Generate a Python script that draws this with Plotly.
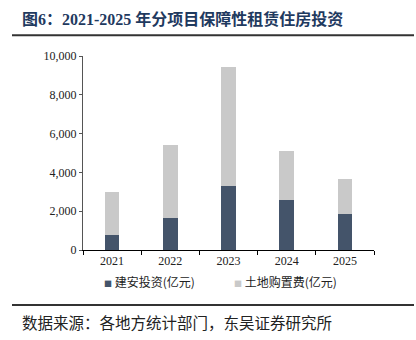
import plotly.graph_objects as go

# 保障性租赁住房投资分项（亿元）
years = ["2021", "2022", "2023", "2024", "2025"]
construction = [785, 1675, 3300, 2564, 1846]   # 建安投资
land = [2225, 3745, 6136, 2564, 1795]          # 土地购置费

y_ticks = [0, 2000, 4000, 6000, 8000, 10000]
y_tick_text = ["0", "2,000", "4,000", "6,000", "8,000", "10,000"]

series_names = ["建安投资(亿元)", "土地购置费(亿元)"]
series_colors = ["#44546A", "#C9C9C9"]

W, H = 416, 340
PL, PR, PT, PB = 83, 374, 55.7, 250  # plot area in px


def px_x(x):
    return (x - PL) / (PR - PL)


def px_y(y):
    return (PB - y) / (PB - PT)


serif = "Times New Roman, Liberation Serif, serif"
cjk = "Noto Sans CJK SC, sans-serif"

fig = go.Figure()
for vals, name, color in zip([construction, land], series_names, series_colors):
    fig.add_trace(go.Bar(x=years, y=vals, name=name,
                         marker=dict(color=color, line=dict(width=0)),
                         width=0.25, showlegend=False))

fig.update_layout(
    barmode="stack",
    width=W, height=H,
    margin=dict(l=PL, r=W - PR, t=PT, b=H - PB),
    plot_bgcolor="white", paper_bgcolor="white",
    font=dict(family=serif, size=12, color="#222"),
)

fig.update_xaxes(
    showline=True, linecolor="black", linewidth=1,
    ticks="outside", tickson="boundaries", ticklen=4, tickcolor="black",
    tickfont=dict(family=serif, size=12, color="#222"),
    showgrid=False, range=[-0.5, 4.5],
)
fig.update_yaxes(
    range=[0, 10000], tickvals=y_ticks, ticktext=y_tick_text,
    showline=True, linecolor="#555", linewidth=1,
    ticks="outside", ticklen=3, tickcolor="#555",
    tickfont=dict(family=serif, size=12, color="#222"),
    showgrid=False, zeroline=False,
)

# 图例
for lx, name, color in zip([102, 232], series_names, series_colors):
    fig.add_annotation(
        text=f"<span style='color:{color};font-size:8px'>■</span> {name}",
        xref="paper", yref="paper", x=px_x(lx), y=px_y(282),
        xanchor="left", yanchor="middle", showarrow=False,
        font=dict(family=cjk, size=12, color="#222"),
    )

# 标题与来源
fig.add_annotation(
    text="<b>图6：2021-2025 年分项目保障性租赁住房投资</b>",
    xref="paper", yref="paper", x=px_x(20), y=px_y(19),
    xanchor="left", yanchor="middle", showarrow=False,
    font=dict(family="Liberation Serif, " + cjk, size=16, color="#1F3A5F"),
)
fig.add_annotation(
    text="数据来源：各地方统计部门，东吴证券研究所",
    xref="paper", yref="paper", x=px_x(20), y=px_y(322),
    xanchor="left", yanchor="middle", showarrow=False,
    font=dict(family=cjk, size=15.5, color="#222"),
)
fig.add_shape(type="line", xref="paper", yref="paper",
              x0=px_x(12), x1=px_x(414), y0=px_y(35), y1=px_y(35),
              line=dict(color="#333", width=2))
fig.add_shape(type="line", xref="paper", yref="paper",
              x0=px_x(12), x1=px_x(414), y0=px_y(305), y1=px_y(305),
              line=dict(color="#333", width=2))

fig.write_html("out.html")
